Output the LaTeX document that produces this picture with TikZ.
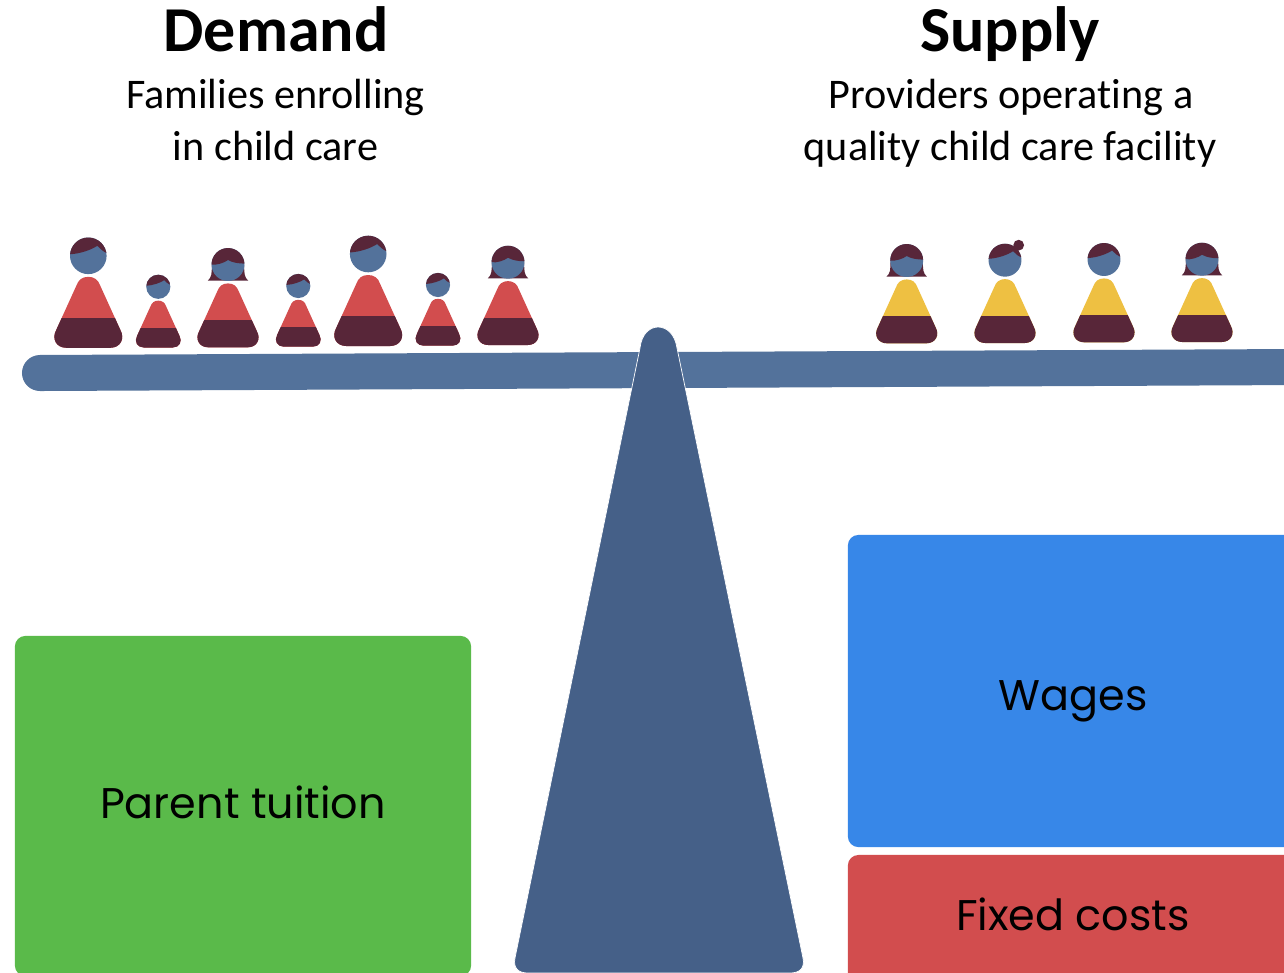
\documentclass[tikz,border=0pt]{standalone}
\usepackage{fontspec}
\setmainfont{Carlito}[Ligatures=NoCommon]
\newfontfamily\boxfont{Poppins}
\usepackage{xcolor}
\definecolor{beamblue}{HTML}{53729B}
\definecolor{postblue}{HTML}{456088}
\definecolor{hairdark}{HTML}{582639}
\definecolor{shirtred}{HTML}{D24D4E}
\definecolor{shirtyellow}{HTML}{EEC042}
\definecolor{boxgreen}{HTML}{5ABA4A}
\definecolor{boxblue}{HTML}{3787E8}
% body of a figure, bottom centre at the origin
\newcommand{\bodypath}{(-22,0) .. controls (-32,0) and (-37,-9) .. (-32,-18) -- (-12,-62) .. controls (-10,-68) and (-6,-71) .. (0,-71) .. controls (6,-71) and (10,-68) .. (12,-62) -- (32,-18) .. controls (37,-9) and (32,0) .. (22,0) -- cycle}
\newcommand{\figbody}[1]{
\fill[#1] \bodypath;
\begin{scope}
\clip \bodypath;
\fill[hairdark] (-40,-30) -- (40,-30) -- (40,1) -- (-40,1) -- cycle;
\end{scope}
\fill[beamblue] (0,-92) circle[radius=18.3];
}
\newcommand{\man}[4]{
\begin{scope}[shift={(#1,#2)},scale=#3]
\figbody{#4}
\begin{scope}[shift={(0,-92)}]
\clip (0,0) circle[radius=18.3];
\fill[hairdark] (-19,-1.5) .. controls (-8,-2) and (3,-6) .. (9,-10) .. controls (12,-7) and (15,-4) .. (19,-2.5) -- (19,-19) -- (-19,-19) -- cycle;
\end{scope}
\end{scope}
}
\newcommand{\bob}[4]{
\begin{scope}[shift={(#1,#2)},scale=#3]
\fill[hairdark] (-18,-92) .. controls (-18,-82) and (-18,-78) .. (-22.5,-74) -- (22.5,-74) .. controls (18,-78) and (18,-82) .. (18,-92) -- cycle;
\figbody{#4}
\begin{scope}[shift={(0,-92)}]
\clip (0,0) circle[radius=18.3];
\fill[hairdark] (-19,0) .. controls (-12,1) and (-4,-2) .. (0,-5) .. controls (5,-2) and (12,-1) .. (19,-1) -- (19,-19) -- (-19,-19) -- cycle;
\end{scope}
\end{scope}
}
\newcommand{\bun}[4]{
\begin{scope}[shift={(#1,#2)},scale=#3]
\figbody{#4}
\fill[hairdark] (15.2,-108.7) circle[radius=6];
\begin{scope}[shift={(0,-92)}]
\clip (0,0) circle[radius=18.3];
\fill[hairdark] (-19,-1.5) .. controls (-8,-2) and (3,-6) .. (9,-10) .. controls (12,-7) and (15,-4) .. (19,-2.5) -- (19,-19) -- (-19,-19) -- cycle;
\end{scope}
\end{scope}
}
\tikzset{
heading/.style={font=\fontsize{18.2}{20}\selectfont\bfseries,inner sep=0pt,anchor=base},
subheading/.style={font=\fontsize{12}{14.8}\selectfont,inner sep=0pt,anchor=base},
costbox/.style={rounded corners=3pt,inner sep=0pt},
costlabel/.style={font=\boxfont\fontsize{12.2}{14}\selectfont,inner sep=0pt,anchor=base}
}
\begin{document}
\begin{tikzpicture}[x=0.01cm,y=-0.01cm]
\useasboundingbox (0,0) rectangle (1284,972);
\clip (0,0) rectangle (1284,972);
\fill[white] (0,0) rectangle (1284,972);
\node[heading] (demand) at (276,51.5) {Demand};
\node[subheading] (demandone) at (275.5,108) {Families enrolling};
\node[subheading] (demandtwo) at (275.5,160) {in child care};
\node[heading] (supply) at (1010,51.5) {Supply};
\node[subheading] (supplyone) at (1011,108) {Providers operating a};
\node[subheading] (supplytwo) at (1010,160) {quality child care facility};
% beam
\draw[beamblue,line width=0.36cm,line cap=round] (40,373) -- (1300,367);
% figures on the left
\man{88.3}{347.8}{1}{shirtred}
\man{158.3}{347.5}{0.66}{shirtred}
\bob{228}{347.3}{0.9}{shirtred}
\man{298.3}{346.7}{0.66}{shirtred}
\man{368.2}{346}{1}{shirtred}
\man{438}{345.7}{0.66}{shirtred}
\bob{508}{345}{0.9}{shirtred}
% figures on the right
\bob{906.7}{343.3}{0.9}{shirtyellow}
\bun{1005}{343}{0.9}{shirtyellow}
\man{1104}{342.3}{0.9}{shirtyellow}
\bob{1202}{342}{0.9}{shirtyellow}
% fulcrum
\filldraw[fill=postblue,draw=white,line width=0.2pt] (640,348) .. controls (643,320) and (673,320) .. (677,348) -- (803,958) .. controls (805,968) and (800,973) .. (790,973) -- (528,973) .. controls (518,973) and (513,968) .. (515,958) -- cycle;
% cost boxes
\node[costbox,fill=boxgreen,minimum width=4.56cm,minimum height=3.4cm] (tuition) at (243,806) {};
\node[costlabel] (tuitiontext) at (243,818) {Parent tuition};
\node[costbox,fill=boxblue,minimum width=4.5cm,minimum height=3.12cm] (wages) at (1073,691) {};
\node[costlabel] (wagestext) at (1073,710) {Wages};
\node[costbox,fill=shirtred,minimum width=4.5cm,minimum height=1.3cm] (fixed) at (1073,920) {};
\node[costlabel] (fixedtext) at (1073,930) {Fixed costs};
\end{tikzpicture}
\end{document}
